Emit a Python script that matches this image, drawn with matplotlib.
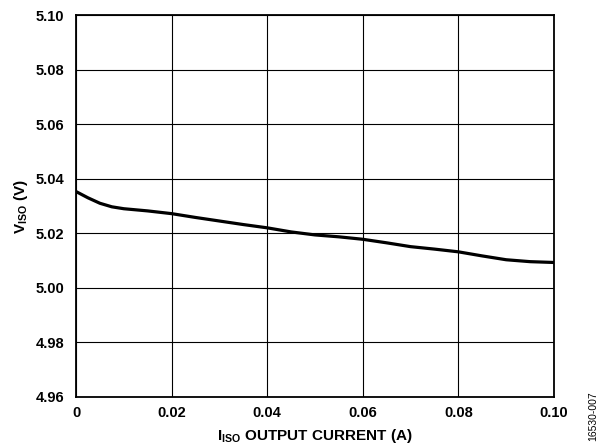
import matplotlib
matplotlib.use("Agg")
import matplotlib.pyplot as plt

# 数据：从图上读取
current = [0, 0.0025, 0.005, 0.0075, 0.01, 0.015, 0.02, 0.025, 0.03, 0.035, 0.04,
           0.045, 0.05, 0.055, 0.06, 0.065, 0.07, 0.075, 0.08, 0.085, 0.09,
           0.095, 0.10]
viso = [5.0353, 5.0330, 5.0310, 5.0297, 5.0290, 5.0282, 5.0272, 5.0258, 5.0245,
        5.0232, 5.0220, 5.0205, 5.0194, 5.0187, 5.0178, 5.0165, 5.0151, 5.0142,
        5.0132, 5.0117, 5.0103, 5.0096, 5.0093]
xticks = [0, 0.02, 0.04, 0.06, 0.08, 0.10]
xtick_labels = ["0", "0.02", "0.04", "0.06", "0.08", "0.10"]
yticks = [4.96, 4.98, 5.00, 5.02, 5.04, 5.06, 5.08, 5.10]

plt.rcParams['font.family'] = ['Liberation Sans', 'DejaVu Sans']
plt.rcParams['mathtext.fontset'] = 'custom'
plt.rcParams['mathtext.rm'] = 'Liberation Sans:bold'
plt.rcParams['mathtext.bf'] = 'Liberation Sans:bold'

fig = plt.figure(figsize=(6, 4.47), dpi=100)
ax = fig.add_axes([0.1267, 0.1119, 0.7966, 0.8545])

ax.plot(current, viso, color='black', linewidth=2.3, solid_joinstyle='round')

ax.set_xlim(0, 0.10)
ax.set_ylim(4.96, 5.10)
ax.set_xticks(xticks)
ax.set_xticklabels(xtick_labels)
ax.set_yticks(yticks)
ax.set_yticklabels(["%.2f" % v for v in yticks])
ax.tick_params(length=0, labelsize=10.5)
ax.tick_params(axis='y', pad=8.5)
ax.tick_params(axis='x', pad=6.5)
for lab in ax.get_xticklabels() + ax.get_yticklabels():
    lab.set_fontweight('bold')

ax.grid(True, color='black', linewidth=0.8)
for s in ax.spines.values():
    s.set_linewidth(1.3)

ax.set_xlabel(r'I$_{\mathrm{ISO}}$ OUTPUT CURRENT (A)', fontsize=11, fontweight='bold', labelpad=5)
ax.set_ylabel(r'V$_{\mathrm{ISO}}$ (V)', fontsize=11, fontweight='bold', labelpad=4)

fig.text(0.988, 0.07, '16530-007', rotation=90, fontsize=7.5, ha='center', va='center')

plt.savefig('out.png', dpi=100)
